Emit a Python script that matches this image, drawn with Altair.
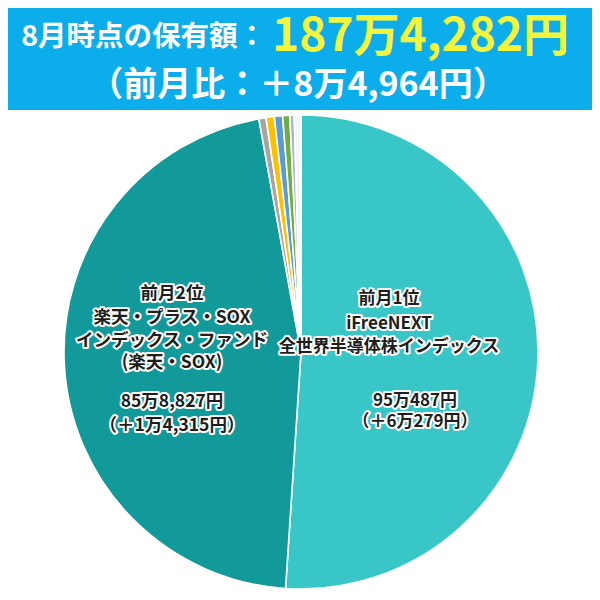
import altair as alt
import pandas as pd

FONT = "Noto Sans CJK JP"

# ---- data ----
fund_names = [
    "iFreeNEXT 全世界半導体株インデックス",
    "楽天・プラス・SOX インデックス・ファンド",
    "その他1", "その他2", "その他3", "その他4", "その他5", "その他6",
]
fund_values = [950487, 858827, 9000, 10500, 10500, 9000, 5500, 8500]
fund_colors = ["#38C6C7", "#12999A", "#A5A5A5", "#FFC000", "#5B9BD5",
               "#70AD47", "#A9B8C8", "#F4F6F6"]

title_left = "8月時点の保有額："
title_total = "187万4,282円"
title_diff = "（前月比：＋8万4,964円）"

left_name = ["前月2位", "楽天・プラス・SOX", "インデックス・ファンド", "(楽天・SOX)"]
left_amount = ["85万8,827円", "（＋1万4,315円）"]
right_name = ["前月1位", "iFreeNEXT", "全世界半導体株インデックス"]
right_amount = ["95万487円", "（＋6万279円）"]

df = pd.DataFrame({"name": fund_names, "value": fund_values,
                   "idx": list(range(len(fund_names)))})
dummy = alt.Data(values=[{}])

W, H = 584, 584
CX, CY, R = 293, 344, 237

band = alt.Chart(dummy).mark_rect(color="#0BAEEA").encode(
    x=alt.value(0), x2=alt.value(W), y=alt.value(0), y2=alt.value(102))

pie = alt.Chart(df).mark_arc(outerRadius=R, stroke="white", strokeWidth=1.6).encode(
    theta=alt.Theta("value:Q", stack=True),
    color=alt.Color("name:N", scale=alt.Scale(domain=fund_names, range=fund_colors), legend=None),
    order=alt.Order("idx:Q", sort="ascending"),
    x=alt.value(CX), y=alt.value(CY),
)


def txt(t, x, y, size, color, align="center", halo=False, weight="bold"):
    out = []
    if halo:
        out.append(alt.Chart(dummy).mark_text(
            text=t, font=FONT, fontSize=size, fontWeight=weight, align=align,
            baseline="middle", fill="white", stroke="white", strokeWidth=4,
            strokeJoin="round").encode(x=alt.value(x), y=alt.value(y)))
    out.append(alt.Chart(dummy).mark_text(
        text=t, font=FONT, fontSize=size, fontWeight=weight, align=align,
        baseline="middle", fill=color).encode(x=alt.value(x), y=alt.value(y)))
    return out


layers = [band, pie]
layers += txt(title_left, 258, 29, 28.5, "white", align="right")
layers += txt(title_total, 264, 29, 46, "#F4F53A", align="left")
layers += txt(title_diff, 290, 78, 34, "white")

for t, y in zip(left_name, [286, 310, 333, 355]):
    layers += txt(t, 164, y, 17.5, "#1E1E1E", halo=True)
for t, y in zip(left_amount, [394, 418]):
    layers += txt(t, 164, y, 17.5, "#1E1E1E", halo=True)
for t, y in zip(right_name, [291, 316, 339]):
    layers += txt(t, 381, y, 17, "#1E1E1E", halo=True)
for t, y in zip(right_amount, [393, 414]):
    layers += txt(t, 407, y, 17, "#1E1E1E", halo=True)

chart = alt.layer(*layers).properties(
    width=W, height=H, padding=0, autosize=alt.AutoSizeParams(type="none")
).configure_view(stroke=None)

chart.save("out.html", embed_options={"renderer": "svg", "actions": False})
